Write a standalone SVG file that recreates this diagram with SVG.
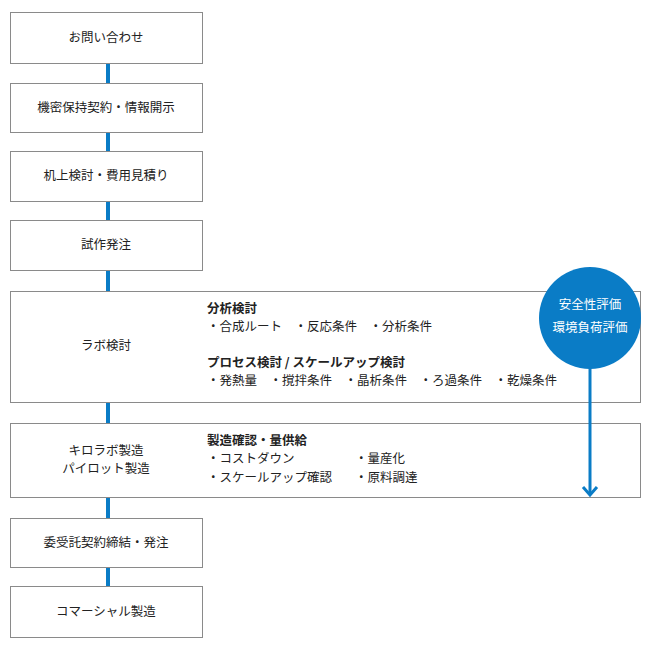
<svg xmlns="http://www.w3.org/2000/svg" width="650" height="650" viewBox="0 0 650 650">
<style>
text{font-family:"Noto Sans CJK JP","Noto Sans",sans-serif;font-size:12.5px;fill:#222}
.b{fill:#fff;stroke:#8a8a8a;stroke-width:1}
.h{font-weight:bold}
.c{text-anchor:middle}
.w{fill:#fff;font-size:12.5px}
</style>
<rect width="650" height="650" fill="#fff"/>
<g id="connectors" stroke="#0a7cc6" stroke-width="4" fill="none">
<line x1="108" y1="63" x2="108" y2="83"/>
<line x1="108" y1="132" x2="108" y2="151"/>
<line x1="108" y1="201" x2="108" y2="220"/>
<line x1="108" y1="270" x2="108" y2="291"/>
<line x1="108" y1="402" x2="108" y2="423"/>
<line x1="108" y1="497" x2="108" y2="518"/>
<line x1="108" y1="567" x2="108" y2="586"/>
</g>
<g id="n1"><rect class="b" x="10.5" y="12.5" width="192" height="51"/><text class="c" x="106" y="42">お問い合わせ</text></g>
<g id="n2"><rect class="b" x="10.5" y="83.5" width="192" height="49"/><text class="c" x="106" y="112">機密保持契約・情報開示</text></g>
<g id="n3"><rect class="b" x="10.5" y="151.5" width="192" height="50"/><text class="c" x="106" y="180">机上検討・費用見積り</text></g>
<g id="n4"><rect class="b" x="10.5" y="220.5" width="192" height="50"/><text class="c" x="106" y="249">試作発注</text></g>
<g id="n5"><rect class="b" x="10.5" y="291.5" width="630" height="111"/>
<text class="c" x="106" y="350">ラボ検討</text>
<text class="h" x="207" y="313">分析検討</text>
<text x="207" y="331" xml:space="preserve">・合成ルート　・反応条件　・分析条件</text>
<text class="h" x="207" y="367">プロセス検討 / スケールアップ検討</text>
<text x="207" y="385" xml:space="preserve">・発熱量　・撹拌条件　・晶析条件　・ろ過条件　・乾燥条件</text>
</g>
<g id="n6"><rect class="b" x="10.5" y="423.5" width="630" height="74"/>
<text class="c" x="106" y="455">キロラボ製造</text>
<text class="c" x="106" y="473">パイロット製造</text>
<text class="h" x="207" y="445">製造確認・量供給</text>
<text x="207" y="463">・コストダウン</text>
<text x="355" y="463">・量産化</text>
<text x="207" y="482">・スケールアップ確認</text>
<text x="355" y="482">・原料調達</text>
</g>
<g id="n7"><rect class="b" x="10.5" y="518.5" width="192" height="49"/><text class="c" x="106" y="547">委受託契約締結・発注</text></g>
<g id="n8"><rect class="b" x="10.5" y="586.5" width="192" height="51"/><text class="c" x="106" y="616">コマーシャル製造</text></g>
<g id="eval">
<line x1="590" y1="360" x2="590" y2="495" stroke="#0a7cc6" stroke-width="3"/>
<polyline points="583,487 590,495 597,487" fill="none" stroke="#0a7cc6" stroke-width="3"/>
<circle cx="590" cy="318" r="51" fill="#0a7cc6"/>
<text class="c w" x="590" y="309">安全性評価</text>
<text class="c w" x="590" y="332">環境負荷評価</text>
</g>
</svg>
